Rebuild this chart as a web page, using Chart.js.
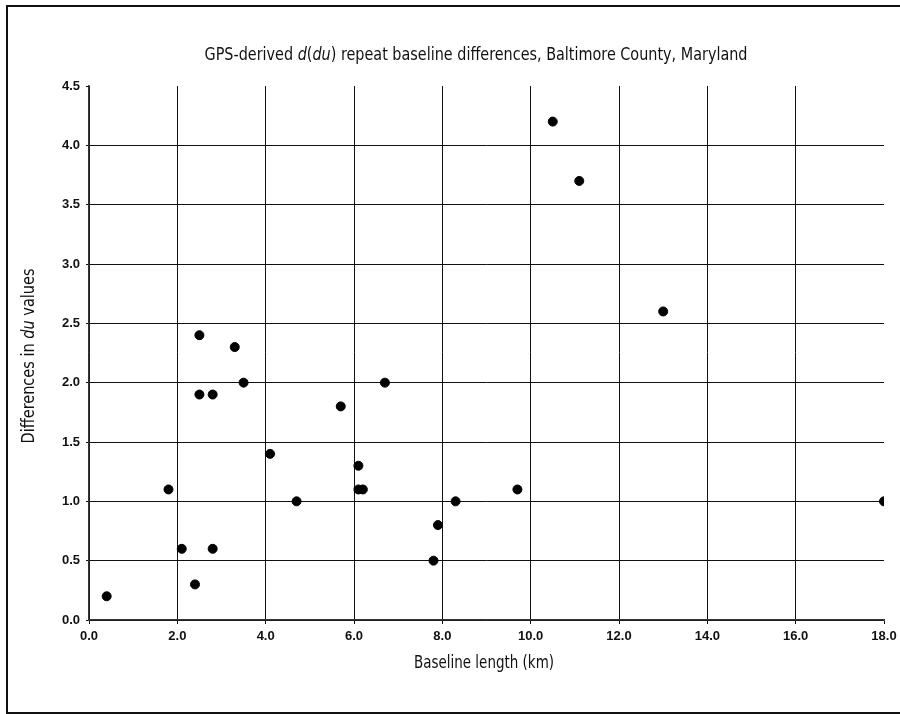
<!DOCTYPE html>
<html>
<head>
<meta charset="utf-8">
<script src="https://cdn.jsdelivr.net/npm/chart.js@4.4.1/dist/chart.umd.min.js"></script>
<style>
  html, body { margin: 0; padding: 0; background: #fff; }
  #wrap { position: relative; width: 900px; height: 714px; }
</style>
</head>
<body>
<div id="wrap"><canvas id="chart" width="900" height="714"></canvas></div>
<script>
  // baseline length (km) and d(du) differences
  const baselineKm = [0.4, 1.8, 2.1, 2.4, 2.5, 2.5, 2.8, 2.8, 3.3, 3.5, 4.1, 4.7, 5.7, 6.1, 6.1, 6.2, 6.7, 7.8, 7.9, 8.3, 9.7, 10.5, 11.1, 13.0, 18.0];
  const duDiff = [0.2, 1.1, 0.6, 0.3, 2.4, 1.9, 1.9, 0.6, 2.3, 2.0, 1.4, 1.0, 1.8, 1.3, 1.1, 1.1, 2.0, 0.5, 0.8, 1.0, 1.1, 4.2, 3.7, 2.6, 1.0];

  const titleRuns = [
    ["GPS-derived ", false], ["d", true], ["(", false], ["du", true],
    [") repeat baseline differences, Baltimore County, Maryland", false]
  ];
  const yTitleRuns = [["Differences in ", false], ["du", true], [" values", false]];
  const xTitleRuns = [["Baseline length (km)", false]];

  const narrow = '"Liberation Sans Narrow", "DejaVu Sans Condensed", sans-serif';

  // draws mixed upright/italic text centred on (cx, cy), squeezed to width w
  function drawRuns(ctx, runs, size, cx, cy, w) {
    const fontFor = function (italic) { return (italic ? "italic " : "") + size + "px " + narrow; };
    let total = 0;
    runs.forEach(function (r) { ctx.font = fontFor(r[1]); total += ctx.measureText(r[0]).width; });
    const sx = Math.min(1, w / total);
    ctx.save();
    ctx.translate(cx, cy);
    ctx.scale(sx, 1);
    let x = -total / 2;
    ctx.textBaseline = "middle";
    ctx.textAlign = "left";
    runs.forEach(function (r) {
      ctx.font = fontFor(r[1]);
      ctx.fillText(r[0], x, 0);
      x += ctx.measureText(r[0]).width;
    });
    ctx.restore();
  }

  const decor = {
    id: "decor",
    afterDraw: function (chart) {
      const ctx = chart.ctx;
      ctx.save();
      ctx.fillStyle = "#111";
      // frame: left, top, bottom (no right edge)
      ctx.strokeStyle = "#111";
      ctx.lineWidth = 2;
      ctx.beginPath();
      ctx.moveTo(905, 6); ctx.lineTo(7, 6); ctx.lineTo(7, 713); ctx.lineTo(905, 713);
      ctx.stroke();

      drawRuns(ctx, titleRuns, 18, 476, 55, 543);
      drawRuns(ctx, xTitleRuns, 18, 484, 663, 140);

      ctx.translate(29, 356);
      ctx.rotate(-Math.PI / 2);
      drawRuns(ctx, yTitleRuns, 18, 0, 0, 175);
      ctx.restore();
    }
  };

  const tickFont = { family: '"Liberation Sans", Arial, sans-serif', size: 13, weight: "bold" };

  new Chart(document.getElementById("chart").getContext("2d"), {
    type: "scatter",
    data: {
      datasets: [{
        data: baselineKm.map(function (x, i) { return { x: x, y: duDiff[i] }; }),
        backgroundColor: "#000",
        borderColor: "#000",
        pointRadius: 4.5,
        pointHoverRadius: 4.5
      }]
    },
    options: {
      responsive: false,
      animation: false,
      layout: { padding: { left: 0, top: 86, right: 16, bottom: 0 } },
      plugins: { legend: { display: false }, tooltip: { enabled: false } },
      scales: {
        x: {
          type: "linear",
          min: 0,
          max: 18,
          afterFit: function (s) { s.height = 94; s.paddingLeft = 0; s.paddingRight = 0; },
          ticks: {
            stepSize: 2,
            color: "#111",
            font: tickFont,
            padding: 5,
            maxRotation: 0,
            callback: function (v) { return v.toFixed(1); }
          },
          grid: {
            color: function (c) { return c.tick && c.tick.value === 18 ? "rgba(0,0,0,0)" : "#111"; },
            tickColor: "#111",
            tickLength: 4,
            lineWidth: 1
          },
          border: { color: "#333", width: 1.5 }
        },
        y: {
          min: 0,
          max: 4.5,
          afterFit: function (s) { s.width = 89; s.paddingTop = 0; s.paddingBottom = 0; },
          ticks: {
            stepSize: 0.5,
            color: "#111",
            font: tickFont,
            padding: 6,
            callback: function (v) { return v.toFixed(1); }
          },
          grid: {
            color: function (c) { return c.tick && c.tick.value === 4.5 ? "rgba(0,0,0,0)" : "#111"; },
            tickColor: "#111",
            tickLength: 3,
            lineWidth: 1
          },
          border: { color: "#333", width: 1.5 }
        }
      }
    },
    plugins: [decor]
  });
</script>
</body>
</html>
